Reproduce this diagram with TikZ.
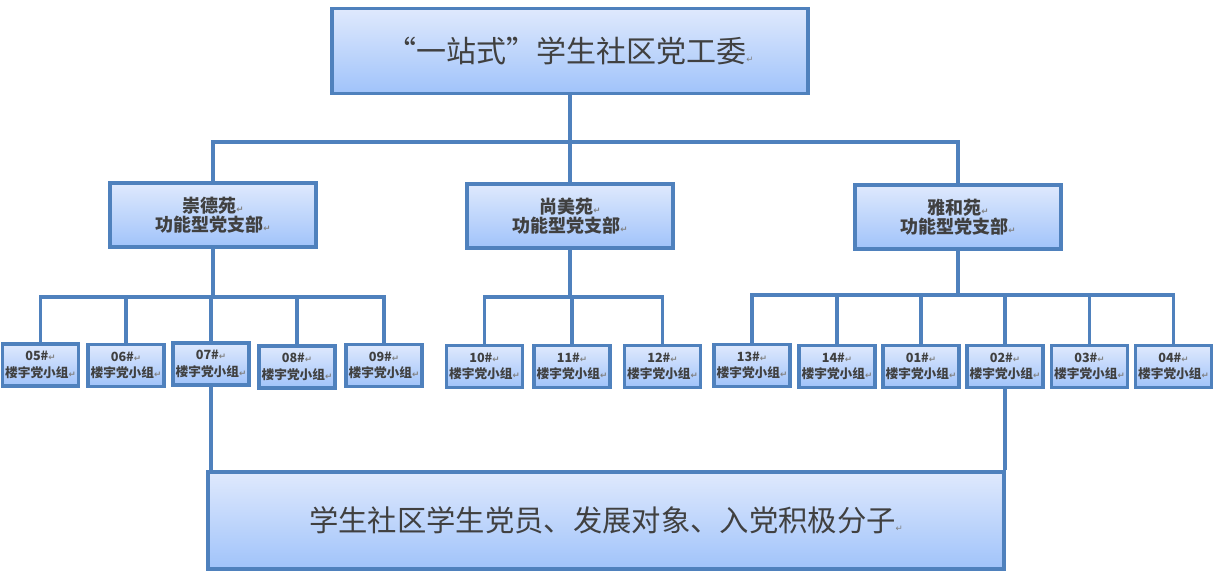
\documentclass[tikz,border=0pt]{standalone}
\usepackage{fontspec}
\setmainfont{Noto Sans CJK SC}
\newfontfamily\marksym{DejaVu Sans}
\usetikzlibrary{calc}
\definecolor{boxline}{RGB}{79,129,189}
\definecolor{boxtop}{RGB}{223,233,253}
\definecolor{boxbot}{RGB}{160,195,250}
\definecolor{txtgray}{RGB}{64,64,64}
% paragraph mark as printed after each line
\newcommand{\pmark}{{\marksym\fontsize{6.5pt}{6.5pt}\selectfont\textcolor{gray}{↵}}}
\begin{document}
\begin{tikzpicture}[x=0.75pt, y=-0.75pt,
  orgbox/.style={draw=boxline, line width=2.4pt, top color=boxtop, bottom color=boxbot,
    text=txtgray, align=center, inner sep=0pt},
  commbox/.style={orgbox, minimum width=357pt, minimum height=63.75pt,
    font=\fontsize{22.5pt}{26pt}\selectfont},
  branchbox/.style={orgbox, minimum width=154.5pt, minimum height=48pt,
    font=\bfseries\fontsize{13.5pt}{14pt}\selectfont},
  groupbox/.style={orgbox, minimum width=57pt, minimum height=31.5pt,
    font=\bfseries\fontsize{9.5pt}{12.5pt}\selectfont},
  basebox/.style={orgbox, minimum width=597pt, minimum height=72.75pt,
    font=\fontsize{22pt}{26pt}\selectfont},
  conn/.style={draw=boxline, line width=2.3pt}]
\useasboundingbox (0,0) rectangle (1213,585);

% committee and branches
\node[commbox] (comm) at (570,51) {“一站式”学生社区党工委\pmark};
\node[branchbox] (chongde) at (213,215) {崇德苑\pmark\\功能型党支部\pmark};
\node[branchbox] (shangmei) at (570,216) {尚美苑\pmark\\功能型党支部\pmark};
\node[branchbox] (yahe) at (958,217) {雅和苑\pmark\\功能型党支部\pmark};

% building groups
\node[groupbox] (g05) at (40.5,365) {05\#\pmark\\楼宇党小组\pmark};
\node[groupbox] (g06) at (126,365.5) {06\#\pmark\\楼宇党小组\pmark};
\node[groupbox] (g07) at (211,364) {07\#\pmark\\楼宇党小组\pmark};
\node[groupbox] (g08) at (297,367) {08\#\pmark\\楼宇党小组\pmark};
\node[groupbox] (g09) at (384,365.5) {09\#\pmark\\楼宇党小组\pmark};
\node[groupbox] (g10) at (484.5,366.5) {10\#\pmark\\楼宇党小组\pmark};
\node[groupbox] (g11) at (572,366.5) {11\#\pmark\\楼宇党小组\pmark};
\node[groupbox] (g12) at (662.5,366.5) {12\#\pmark\\楼宇党小组\pmark};
\node[groupbox] (g13) at (752,365.5) {13\#\pmark\\楼宇党小组\pmark};
\node[groupbox] (g14) at (837,366.5) {14\#\pmark\\楼宇党小组\pmark};
\node[groupbox] (g01) at (921,366.5) {01\#\pmark\\楼宇党小组\pmark};
\node[groupbox] (g02) at (1005,366.5) {02\#\pmark\\楼宇党小组\pmark};
\node[groupbox] (g03) at (1089.5,366.5) {03\#\pmark\\楼宇党小组\pmark};
\node[groupbox] (g04) at (1173.5,366.5) {04\#\pmark\\楼宇党小组\pmark};

% members
\node[basebox] (members) at (606,520.5) {学生社区学生党员、发展对象、入党积极分子\pmark};

% connectors
\coordinate (topbus) at (570,142);
\draw[conn] (comm.south) -- (shangmei.north);
\draw[conn] (chongde.north) |- (topbus) -| (yahe.north);

\coordinate (leftbus) at (213,297);
\draw[conn] (chongde.south) -- (leftbus);
\draw[conn] (g05.north) |- (leftbus) -| (g09.north);
\draw[conn] (g06.north) -- (g06.north |- leftbus);
\draw[conn] (g07.north) -- (g07.north |- leftbus);
\draw[conn] (g08.north) -- (g08.north |- leftbus);

\coordinate (midbus) at (570,297);
\draw[conn] (shangmei.south) -- (midbus);
\draw[conn] (g10.north) |- (midbus) -| (g12.north);
\draw[conn] (g11.north) -- (g11.north |- midbus);

\coordinate (rightbus) at (958,295);
\draw[conn] (yahe.south) -- (rightbus);
\draw[conn] (g13.north) |- (rightbus) -| (g04.north);
\draw[conn] (g14.north) -- (g14.north |- rightbus);
\draw[conn] (g01.north) -- (g01.north |- rightbus);
\draw[conn] (g02.north) -- (g02.north |- rightbus);
\draw[conn] (g03.north) -- (g03.north |- rightbus);

\draw[conn] (g07.south) -- (g07.south |- members.north);
\draw[conn] (g02.south) -- (g02.south |- members.north);
\end{tikzpicture}
\end{document}
